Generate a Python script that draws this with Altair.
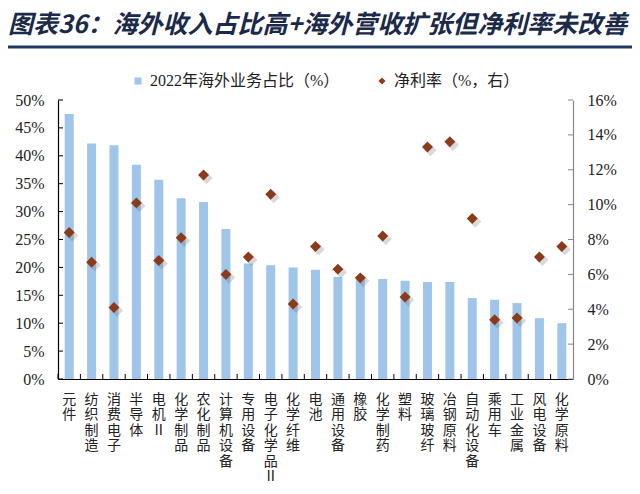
import altair as alt
import pandas as pd

categories = ["元件", "纺织制造", "消费电子", "半导体", "电机Ⅱ", "化学制品", "农化制品",
              "计算机设备", "专用设备", "电子化学品Ⅱ", "化学纤维", "电池", "通用设备", "橡胶",
              "化学制药", "塑料", "玻璃玻纤", "冶钢原料", "自动化设备", "乘用车", "工业金属",
              "风电设备", "化学原料"]
overseas_share = [47.5, 42.2, 41.9, 38.4, 35.7, 32.4, 31.7, 26.9, 20.7, 20.4, 20.0, 19.6,
                  18.3, 18.1, 17.9, 17.6, 17.4, 17.4, 14.5, 14.2, 13.6, 10.9, 10.0]
net_margin = [8.4, 6.7, 4.1, 10.1, 6.8, 8.1, 11.7, 6.0, 7.0, 10.6, 4.3, 7.6,
              6.3, 5.8, 8.2, 4.7, 13.3, 13.6, 9.2, 3.4, 3.5, 7.0, 7.6]
left_ticks = [0, 5, 10, 15, 20, 25, 30, 35, 40, 45, 50]
right_ticks = [0, 2, 4, 6, 8, 10, 12, 14, 16]
series_names = ["2022年海外业务占比（%）", "净利率（%，右）"]
title_text = "图表36：海外收入占比高+海外营收扩张但净利率未改善"

W, H = 515, 279
SERIF = "Liberation Serif"
CJK = "Noto Sans CJK SC"
MIXED = "Liberation Serif, Noto Sans CJK SC"

df = pd.DataFrame({"category": categories, "share": overseas_share, "margin": net_margin})
ldf = pd.DataFrame({"v": left_ticks})
rdf = pd.DataFrame({"v": right_ticks})
one = pd.DataFrame({"a": [0]})

xscale = alt.Scale(paddingInner=0, paddingOuter=0)
x_axis = alt.Axis(title=None, labelAngle=0, labelExpr="split(datum.label, '')",
                  labelFont=CJK, labelFontSize=14, labelLineHeight=15.5,
                  labelBaseline="top", labelAlign="center", labelPadding=13,
                  ticks=False, domainColor="#000", domainWidth=1.2,
                  labelColor="#222", labelOverlap=False, labelLimit=400)
xenc = alt.X("category:N", sort=categories, scale=xscale, axis=x_axis)

left_scale = alt.Scale(domain=[0, 50], nice=False)
right_scale = alt.Scale(domain=[0, 16], nice=False)
left_axis = alt.Axis(title=None, orient="left", values=left_ticks, labelExpr="datum.value + '%'",
                     labelFont=SERIF, labelFontSize=16, labelColor="#222", ticks=False,
                     labelPadding=14, domainColor="#000", domainWidth=1.2, grid=False)
right_axis = alt.Axis(title=None, orient="right", values=right_ticks, labelExpr="datum.value + '%'",
                      labelFont=SERIF, labelFontSize=16, labelColor="#222", ticks=False,
                      labelPadding=14, domainColor="#888", domainWidth=1.2, grid=False)

color_scale = alt.Scale(domain=series_names, range=["#9FC5EA", "#8B3A1A"])
shape_scale = alt.Scale(domain=series_names, range=["square", "diamond"])
legend = alt.Legend(orient="none", legendX=72, legendY=-27, direction="horizontal",
                    title=None, labelFont=MIXED, labelFontSize=16, labelColor="#222",
                    symbolSize=50, columnPadding=34, padding=0, labelOffset=4,
                    symbolStrokeWidth=0, labelLimit=400)

bars = alt.Chart(df).transform_calculate(series="'" + series_names[0] + "'").mark_bar(size=9).encode(
    x=xenc,
    y=alt.Y("share:Q", scale=left_scale, axis=left_axis),
    color=alt.Color("series:N", scale=color_scale, legend=legend),
)
lticks = alt.Chart(ldf).mark_rule(color="#000").encode(
    y=alt.Y("v:Q", scale=left_scale, axis=left_axis),
    x=alt.value(0), x2=alt.value(5),
)
bticks = alt.Chart(df).mark_rule(color="#000").encode(
    x=alt.X("category:N", sort=categories, scale=xscale, axis=x_axis, bandPosition=0),
    y=alt.value(H - 5), y2=alt.value(H),
)
underline = alt.Chart(one).mark_rule(color="#1F3864", strokeWidth=3).encode(
    x=alt.value(-50), x2=alt.value(W + 59), y=alt.value(-53),
)

shadow = alt.Chart(df).mark_point(shape="diamond", filled=True, size=150, color="#666",
                                  opacity=0.25, xOffset=3, yOffset=3).encode(
    x=xenc,
    y=alt.Y("margin:Q", scale=right_scale, axis=right_axis),
)
points = alt.Chart(df).transform_calculate(series="'" + series_names[1] + "'").mark_point(
    filled=True, size=120, opacity=1).encode(
    x=xenc,
    y=alt.Y("margin:Q", scale=right_scale, axis=right_axis),
    color=alt.Color("series:N", scale=color_scale, legend=legend),
    shape=alt.Shape("series:N", scale=shape_scale, legend=legend),
)
rticks = alt.Chart(rdf).mark_rule(color="#888").encode(
    y=alt.Y("v:Q", scale=right_scale, axis=right_axis),
    x=alt.value(W - 5), x2=alt.value(W),
)

left = alt.layer(bars, lticks, bticks, underline)
right = alt.layer(shadow, points, rticks)

chart = alt.layer(left, right).resolve_scale(y="independent").properties(
    width=W, height=H,
    title=alt.TitleParams(text=title_text, anchor="start", frame="group", dx=-50, offset=8,
                          font=CJK, fontSize=25, fontWeight="bold", fontStyle="italic",
                          color="#1B2A49"),
    padding={"left": 50, "top": 92, "right": 59, "bottom": 106},
    autosize="none",
).configure_view(stroke=None)

chart.save("out.html", embed_options={"renderer": "svg", "actions": False})
